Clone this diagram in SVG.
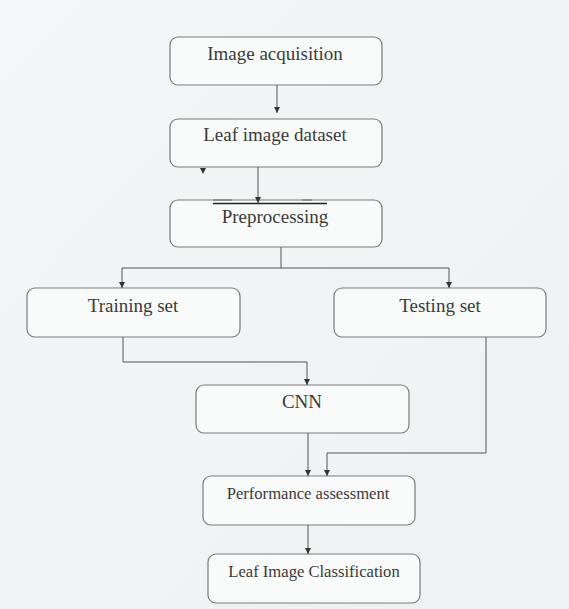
<svg xmlns="http://www.w3.org/2000/svg" width="569" height="609" viewBox="0 0 569 609">
<defs>
<linearGradient id="bg" x1="0" y1="0" x2="1" y2="1">
<stop offset="0" stop-color="#f5f6f7"/>
<stop offset="1" stop-color="#eef0f1"/>
</linearGradient>
</defs>
<style>
.box{fill:#f9fafa;stroke:#7a7a7a;stroke-width:1.2}
.ln{fill:none;stroke:#555;stroke-width:1}
.ah{fill:#333}
</style>
<rect x="0" y="0" width="569" height="609" fill="url(#bg)"/>
<g font-family="Liberation Serif" font-size="19" fill="#3a3a3a" text-anchor="middle">
<g id="image-acquisition">
<rect class="box" x="170" y="37" width="212" height="48" rx="8"/>
<text x="275" y="60">Image acquisition</text>
</g>
<g id="leaf-image-dataset">
<rect class="box" x="170" y="119" width="212" height="48" rx="8"/>
<text x="275" y="141">Leaf image dataset</text>
</g>
<g id="preprocessing">
<rect class="box" x="170" y="200" width="212" height="47" rx="8"/>
<text x="275" y="223">Preprocessing</text>
</g>
<g id="training-set">
<rect class="box" x="27" y="288" width="213" height="49" rx="8"/>
<text x="133" y="312">Training set</text>
</g>
<g id="testing-set">
<rect class="box" x="334" y="288" width="212" height="49" rx="8"/>
<text x="440" y="312">Testing set</text>
</g>
<g id="cnn">
<rect class="box" x="196" y="385" width="213" height="48" rx="8"/>
<text x="302" y="408">CNN</text>
</g>
<g id="performance-assessment">
<rect class="box" x="203" y="476" width="212" height="49" rx="8"/>
<text x="308" y="499" font-size="16.6">Performance assessment</text>
</g>
<g id="leaf-image-classification">
<rect class="box" x="208" y="554" width="212" height="49" rx="8"/>
<text x="314" y="577" font-size="16.6">Leaf Image Classification</text>
</g>
</g>
<g id="connectors">
<line class="ln" x1="277" y1="85" x2="277" y2="113"/>
<path class="ah" d="M277,113 l-3,-6 h6 z"/>
<path class="ah" d="M203,174 l-3,-6 h6 z"/>
<line class="ln" x1="258" y1="167" x2="258" y2="203" stroke="#333"/>
<path class="ah" d="M258,203 l-3,-6 h6 z"/>
<line x1="213" y1="203.5" x2="327" y2="203.5" stroke="#222" stroke-width="1.3"/>
<line x1="213" y1="200" x2="232" y2="200" stroke="#555" stroke-width="0.8"/>
<line x1="302" y1="200" x2="312" y2="200" stroke="#555" stroke-width="0.8"/>
<path class="ln" d="M281,247 V268 M122,268 H449"/>
<path class="ln" d="M122,268 V288"/>
<path class="ah" d="M122,288 l-3,-6 h6 z"/>
<path class="ln" d="M449,268 V288"/>
<path class="ah" d="M449,288 l-3,-6 h6 z"/>
<path class="ln" d="M123,337 V362 H307 V385"/>
<path class="ah" d="M307,385 l-3,-6 h6 z"/>
<path class="ln" d="M486,337 V453 H327 V476"/>
<path class="ah" d="M327,476 l-3,-6 h6 z"/>
<path class="ln" d="M308,433 V476"/>
<path class="ah" d="M308,476 l-3,-6 h6 z"/>
<path class="ln" d="M308,525 V554"/>
<path class="ah" d="M308,554 l-3,-6 h6 z"/>
</g>
</svg>
